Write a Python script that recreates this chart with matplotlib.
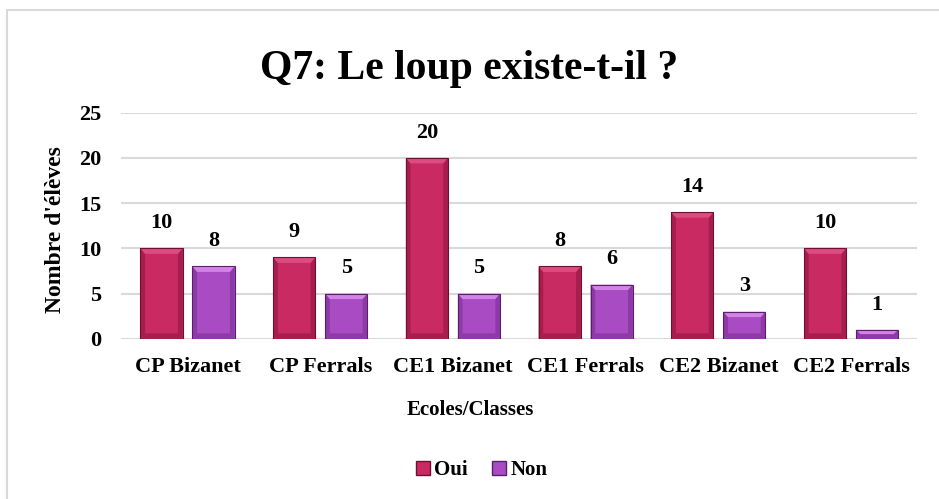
import matplotlib.pyplot as plt
import numpy as np
from matplotlib.patches import Polygon, Rectangle
from matplotlib.lines import Line2D

categories = ['CP Bizanet', 'CP Ferrals', 'CE1 Bizanet', 'CE1 Ferrals', 'CE2 Bizanet', 'CE2 Ferrals']
oui = [10, 9, 20, 8, 14, 10]
non = [8, 5, 5, 6, 3, 1]

plt.rcParams['font.family'] = ['Liberation Serif', 'DejaVu Serif']
plt.rcParams['font.weight'] = 'bold'

fig = plt.figure(figsize=(9.39, 4.99), dpi=100)
ax = fig.add_axes([0.129, 0.321, 0.848, 0.453])

# chart border
fig.patches.append(Rectangle((7 / 939, -0.1), 1.2, 1 - 10 / 499 + 0.1, transform=fig.transFigure,
                             fill=False, edgecolor='#d9d9d9', linewidth=1.5))

x = np.arange(len(categories))
w = 0.317
gap = 0.075

styles = {
    'Oui': dict(face='#c92a62', side='#a61d4e', top='#dc4c80', bottom='#a61d4e', edge='#6e1030'),
    'Non': dict(face='#a94bc2', side='#8e3aa6', top='#d383e5', bottom='#8e3aa6', edge='#5a1f6c'),
}


def bevel_bars(xs, vals, st):
    bx = 0.035
    by = 0.6
    for xc, h in zip(xs, vals):
        x0, x1 = xc - w / 2, xc + w / 2
        b = min(by, h / 2)
        ax.add_patch(Rectangle((x0, 0), w, h, facecolor=st['face'], edgecolor='none', zorder=3))
        ax.add_patch(Polygon([(x0, 0), (x0 + bx, b), (x0 + bx, h - b), (x0, h)], closed=True,
                             facecolor=st['side'], edgecolor='none', zorder=3))
        ax.add_patch(Polygon([(x1, 0), (x1 - bx, b), (x1 - bx, h - b), (x1, h)], closed=True,
                             facecolor=st['side'], edgecolor='none', zorder=3))
        ax.add_patch(Polygon([(x0, h), (x0 + bx, h - b), (x1 - bx, h - b), (x1, h)], closed=True,
                             facecolor=st['top'], edgecolor='none', zorder=3))
        ax.add_patch(Polygon([(x0, 0), (x0 + bx, b), (x1 - bx, b), (x1, 0)], closed=True,
                             facecolor=st['bottom'], edgecolor='none', zorder=3))
        ax.add_patch(Rectangle((x0, 0), w, h, facecolor='none', edgecolor=st['edge'], linewidth=0.8, zorder=4))
        ax.annotate(str(h), (xc, h), xytext=(0, 11), textcoords='offset points', ha='center', va='bottom',
                    fontsize=16, fontweight='bold', color='black')


bevel_bars(x - (w + gap) / 2, oui, styles['Oui'])
bevel_bars(x + (w + gap) / 2, non, styles['Non'])

ax.set_xlim(-0.5, len(categories) - 0.5)
ax.set_ylim(0, 25)
ax.set_yticks(range(0, 26, 5))
ax.set_xticks(x)
ax.set_xticklabels(categories, fontsize=16, fontweight='bold')
ax.tick_params(axis='y', length=0, labelsize=16, pad=14)
ax.tick_params(axis='x', length=0, pad=13)
for lab in ax.get_yticklabels():
    lab.set_fontweight('bold')
ax.grid(axis='y', color='#d9d9d9', linewidth=1.5, zorder=0)
ax.set_axisbelow(True)
for s in ax.spines.values():
    s.set_visible(False)

fig.text(0.5, 0.862, 'Q7: Le loup existe-t-il ?', ha='center', va='center', fontsize=30, fontweight='bold')
fig.text(0.5006, 0.179, 'Ecoles/Classes', ha='center', va='center', fontsize=15, fontweight='bold')
fig.text(0.0586, 0.539, "Nombre d'élèves", ha='center', va='center', rotation=90, fontsize=17, fontweight='bold')

handles = [Line2D([], [], marker='s', linestyle='none', markersize=9.5, markerfacecolor=styles[k]['face'],
                  markeredgecolor=styles[k]['edge']) for k in ['Oui', 'Non']]
fig.legend(handles, ['Oui', 'Non'], loc='center', bbox_to_anchor=(0.511, 0.058), ncol=2, frameon=False,
           prop={'size': 15, 'weight': 'bold'}, handletextpad=0.05, columnspacing=1.0, handlelength=1.0)

fig.savefig('out.png', dpi=100)
